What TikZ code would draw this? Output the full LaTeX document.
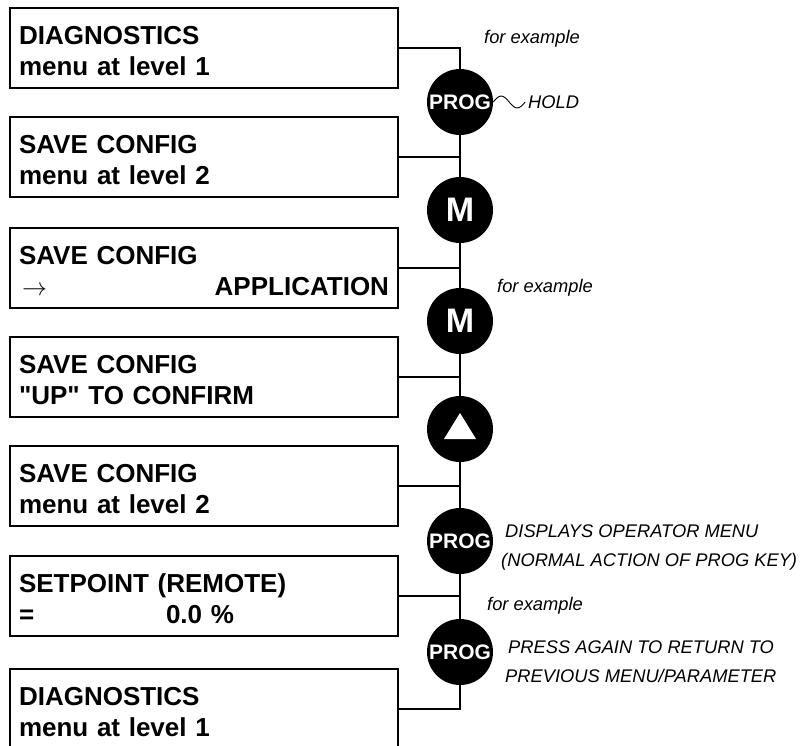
\documentclass[tikz,border=0pt]{standalone}
\usepackage{fontspec}
\setmainfont{Liberation Sans}
\usetikzlibrary{calc, positioning}
\tikzset{
    box/.style={draw, line width=1.8pt, text width=370pt, inner xsep=9pt, inner ysep=0pt, minimum height=80pt, align=left, font=\bfseries\fontsize{26}{31}\selectfont},
    key/.style={circle, fill=black, minimum size=66pt, inner sep=0pt, text=white, font=\bfseries\fontsize{21}{21}\selectfont},
    bigkey/.style={key, font=\bfseries\fontsize{34}{34}\selectfont},
    note/.style={inner sep=0pt, align=left, font=\itshape\fontsize{18.3}{29}\selectfont},
    link/.style={line width=1.8pt}
}
\newcommand{\panel}[2]{\rule{0pt}{25pt}#1\\#2}

\begin{document}
\begin{tikzpicture}[x=1pt, y=-1pt]
    \clip (0,0) rectangle (802,745);
    % Display panels
    \node[box] (diag) at (204,48) {\panel{DIAGNOSTICS}{menu at level 1}};
    \node[box] (save) at (204,157) {\panel{SAVE CONFIG}{menu at level 2}};
    \node[box] (app) at (204,268) {\panel{SAVE CONFIG}{\hspace*{3pt}$\rightarrow$\hfill APPLICATION}};
    \node[box] (confirm) at (204,377) {\panel{SAVE CONFIG}{\textquotedbl UP\textquotedbl{} TO CONFIRM}};
    \node[box] (saved) at (204,486) {\panel{SAVE CONFIG}{menu at level 2}};
    \node[box] (setpt) at (204,596) {\panel{SETPOINT (REMOTE)}{\makebox[147pt][l]{=}0.0 \%}};
    \node[box] (diagend) at (204,709) {\panel{DIAGNOSTICS}{menu at level 1}};

    % Keys
    \node[key] (prog1) at (460,102) {PROG};
    \node[bigkey] (m1) at (460,210) {M};
    \node[bigkey] (m2) at (460,321) {M};
    \node[key] (up) at (460,429) {};
    \fill[white] ($(up.center)+(0,-16)$) -- ($(up.center)+(16,10)$) -- ($(up.center)+(-16,10)$) -- cycle;
    \node[key] (prog2) at (460,541) {PROG};
    \node[key] (prog3) at (460,652) {PROG};

    % Connectors
    \draw[link] (diag.east) -| (prog1.north);
    \draw[link] (prog1) -- (m1);
    \draw[link] (save.east) -- (save.east -| prog1.south);
    \draw[link] (m1) -- (m2);
    \draw[link] (app.east) -- (app.east -| m1.south);
    \draw[link] (m2) -- (up);
    \draw[link] (confirm.east) -- (confirm.east -| m2.south);
    \draw[link] (up) -- (prog2);
    \draw[link] (saved.east) -- (saved.east -| up.south);
    \draw[link] (prog2) -- (prog3);
    \draw[link] (setpt.east) -- (setpt.east -| prog2.south);
    \draw[link] (prog3.south) |- (diagend.east);

    % Notes
    \node[note, anchor=base west] (ex1) at (484,43) {for example};
    \node[note, anchor=base west] (hold) at (528,108) {HOLD};
    \draw[line width=0.9pt] (prog1.east) sin ++(8,-6) cos ++(8,6) sin ++(8,6) cos ++(8,-6);
    \node[note, anchor=base west] (ex2) at (497,292) {for example};
    \node[note, anchor=west] (operator) at (501,547) {\hspace*{4pt}DISPLAYS OPERATOR MENU\\(NORMAL ACTION OF PROG KEY)};
    \node[note, anchor=base west] (ex3) at (487,610) {for example};
    \node[note, anchor=west] (press) at (505,662) {\hspace*{3pt}PRESS AGAIN TO RETURN TO\\PREVIOUS MENU/PARAMETER};
\end{tikzpicture}
\end{document}
